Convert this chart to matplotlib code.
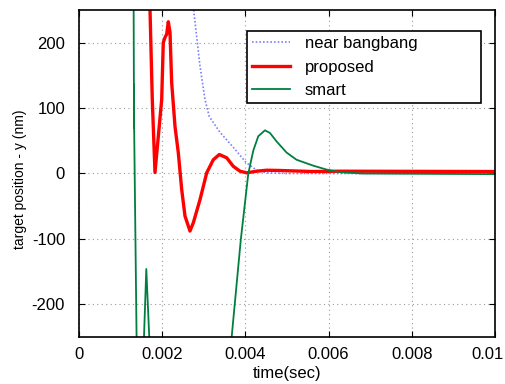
import matplotlib
matplotlib.use("Agg")
import matplotlib.pyplot as plt
from matplotlib.transforms import ScaledTranslation

plt.rcParams['font.family'] = ['Liberation Sans', 'DejaVu Sans']
plt.rcParams['axes.unicode_minus'] = False

# near bangbang (dotted blue)
t_bang = [0.0025, 0.002764, 0.002909, 0.003029, 0.003132, 0.003389, 0.00375,
          0.004014, 0.00427, 0.0045, 0.005, 0.01]
y_bang = [600, 246, 164, 113, 87, 63, 37, 17, 5, 1, 0, 0]

# proposed (red)
t_prop = [0.00165, 0.001707, 0.001762, 0.001827, 0.001988, 0.002026, 0.002067,
          0.002108, 0.002147, 0.002188, 0.002228, 0.002308, 0.002387, 0.002469,
          0.002548, 0.002668, 0.00275, 0.002909, 0.00307, 0.003228, 0.003373,
          0.00355, 0.003709, 0.00387, 0.004031, 0.004272, 0.004512, 0.004832,
          0.005625, 0.006274, 0.01]
y_prop = [600, 251, 113, 1.5, 113, 200, 208, 213, 232, 216, 139, 72, 32, -24.5,
          -65, -88, -75, -40, 1, 21, 29, 24, 11, 3.5, 1, 3.5, 5, 4.6, 3, 3.5, 3]

# smart (green)
t_smart = [0.00128, 0.00132, 0.001322, 0.001324, 0.001326, 0.00143, 0.001618,
           0.00186, 0.0034, 0.00367, 0.00389, 0.00407, 0.00419, 0.00431,
           0.00447, 0.00459, 0.00475, 0.00499, 0.00523, 0.00563, 0.00595,
           0.00627, 0.0068, 0.01]
y_smart = [900, 136, 70, 136, 70, -500, -146, -500, -500, -250, -101, 0, 35, 57,
           66, 62, 49, 32, 21, 12, 6, 2, 0, -1]

xticks = [0, 0.002, 0.004, 0.006, 0.008, 0.01]
xtick_labels = ['0', '0.002', '0.004', '0.006', '0.008', '0.01']
yticks = [-200, -100, 0, 100, 200]

fig = plt.figure(figsize=(5.05, 3.84), dpi=100)
ax = fig.add_axes([0.1564, 0.1224, 0.8238, 0.8516])

ax.plot(t_bang, y_bang, color='#7f7fff', lw=1.2, linestyle=(0, (1, 1.2)),
        label='near bangbang')
ax.plot(t_prop, y_prop, color='#ff0000', lw=2.4, label='proposed')
ax.plot(t_smart, y_smart, color='#007f3f', lw=1.3, label='smart')

ax.set_xlim(0, 0.01)
ax.set_ylim(-250, 250)
ax.set_xticks(xticks)
ax.set_xticklabels(xtick_labels)
ax.set_yticks(yticks)
ax.tick_params(direction='in', top=True, right=True, length=4, width=0.8,
               labelsize=12)
ax.tick_params(axis='x', pad=7)
ax.tick_params(axis='y', pad=10)
ax.grid(True, color='#999999', linestyle=(0, (1, 3)), lw=0.8)
for s in ax.spines.values():
    s.set_linewidth(1.2)

# last x label is pulled left so it stays inside the figure
lab = ax.get_xticklabels()[-1]
lab.set_transform(lab.get_transform() + ScaledTranslation(-8 / 100, 0, fig.dpi_scale_trans))

ax.set_xlabel('time(sec)', fontsize=12, labelpad=3)
ax.set_ylabel('target position - y (nm)', fontsize=10)
ax.yaxis.set_label_coords(-0.125, 0.483)

leg = ax.legend(loc='upper left', bbox_to_anchor=(0.404, 0.716, 0.562, 0.22),
                mode='expand', fontsize=12, handlelength=2.3,
                handletextpad=0.85, labelspacing=0.52, borderpad=0.3,
                borderaxespad=0, fancybox=False, framealpha=1,
                edgecolor='black')
leg.get_frame().set_linewidth(1.2)

fig.savefig('out.png', dpi=100)
